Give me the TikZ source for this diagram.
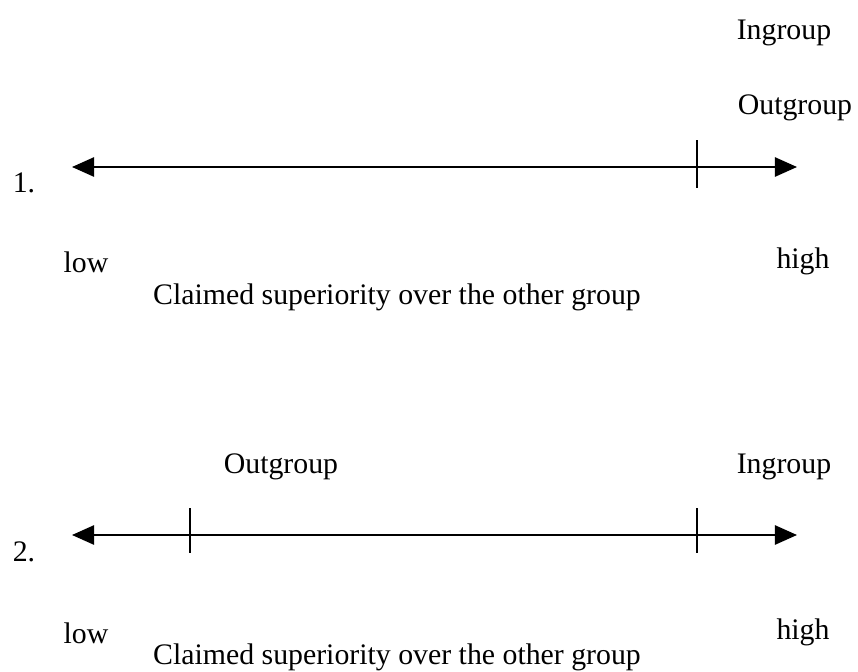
\documentclass[tikz,border=0pt]{standalone}
\usepackage{fontspec}
\setmainfont{Liberation Serif}
\usetikzlibrary{arrows.meta}
\tikzset{
  lbl/.style={inner sep=0pt, font=\fontsize{21.2}{25}\selectfont},
  axis/.style={line width=1.3pt, {Triangle[length=0.55cm,width=0.48cm]}-{Triangle[length=0.55cm,width=0.48cm]}},
  tick/.style={line width=1.1pt}
}
\begin{document}
\begin{tikzpicture}[x=0.025cm,y=-0.025cm]
                \useasboundingbox (0,0) rectangle (858,672);

                % scale 1
                \node[lbl] (num1) at (24,183) {1.};
                \coordinate (l1) at (72,167);
                \coordinate (r1) at (797,167);
                \draw[axis] (l1)--(r1); % low -- high
                \coordinate (t1a) at (697,140);
                \coordinate (t1b) at (697,188);
                \draw[tick] (t1a)--(t1b); % ingroup = outgroup

                \node[lbl] (in1) at (784,33) {Ingroup};
                \node[lbl] (out1) at (795,108) {Outgroup};
                \node[lbl] (low1) at (86,262) {low};
                \node[lbl] (high1) at (803,261) {high};
                \node[lbl] (cap1) at (397,297) {Claimed superiority over the other group};

                % scale 2
                \node[lbl] (num2) at (24,552) {2.};
                \coordinate (l2) at (72,535);
                \coordinate (r2) at (797,535);
                \draw[axis] (l2)--(r2); % low -- high
                \coordinate (t2a) at (190,508);
                \coordinate (t2b) at (190,553);
                \draw[tick] (t2a)--(t2b); % outgroup
                \coordinate (t3a) at (697,508);
                \coordinate (t3b) at (697,553);
                \draw[tick] (t3a)--(t3b); % ingroup

                \node[lbl] (out2) at (281,467) {Outgroup};
                \node[lbl] (in2) at (784,467) {Ingroup};
                \node[lbl] (low2) at (86,633) {low};
                \node[lbl] (high2) at (803,632) {high};
                \node[lbl] (cap2) at (397,657) {Claimed superiority over the other group};
            \end{tikzpicture}
\end{document}
